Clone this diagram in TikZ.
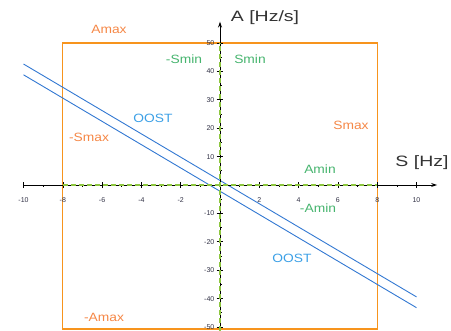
\documentclass[tikz,border=0pt]{standalone}
\usepackage{fontspec}
\setmainfont{Liberation Sans}
\usetikzlibrary{arrows.meta}
\definecolor{boxorange}{RGB}{247,148,29}
\definecolor{lblorange}{RGB}{245,135,70}
\definecolor{lblgreen}{RGB}{70,180,110}
\definecolor{dashgreen}{RGB}{141,198,63}
\definecolor{lineblue}{RGB}{50,120,210}
\definecolor{lblblue}{RGB}{60,160,230}
\definecolor{ticklbl}{RGB}{50,50,70}
\tikzset{
  lbl/.style={font=\fontsize{12}{12}\selectfont, inner sep=0pt, xscale=1.15},
  olbl/.style={lbl, text=lblorange},
  glbl/.style={lbl, text=lblgreen},
  blbl/.style={lbl, text=lblblue},
  axtitle/.style={font=\fontsize{15}{15}\selectfont, inner sep=0pt, text=black!80, xscale=1.3},
  ticklab/.style={font=\fontsize{7}{7}\selectfont, inner sep=0pt, text=ticklbl},
  axisline/.style={line width=0.9pt, black},
  gdash/.style={dashgreen, line width=2.4pt, dash pattern=on 5pt off 3pt},
  oost/.style={lineblue, line width=0.9pt},
  bound/.style={boxorange, line width=1.2pt}
}
\begin{document}
\begin{tikzpicture}[x=1pt,y=1pt]
\useasboundingbox (0,0) rectangle (451,331);
\begin{scope}[shift={(220,146)}, x=19.65pt, y=2.84pt]
  % limit box
  \draw[bound] (-8,-50.7) rectangle (8,50);
  % OOST lines
  \draw[oost] (-10,42.6) -- (10,-39.4);
  \draw[oost] (-10,38.8) -- (10,-43.2);
  % axes
  \coordinate (xs) at (-10,0);
  \coordinate (xe) at (11.05,0);
  \coordinate (ys) at (0,-51.5);
  \coordinate (ye) at (0,57.5);
  \draw[axisline, -{Stealth[length=6pt,width=4pt]}] (xs) -- (xe);
  \draw[axisline, -{Stealth[length=6pt,width=4pt]}] (ys) -- (ye);
  % ticks x
  \foreach \s in {-10,-8,-6,-4,-2,2,4,6,8,10} {
    \draw[black, line width=0.6pt] (\s,0) ++(0,-1.1) -- ++(0,2.2);
    \node[ticklab] (tx\s) at (\s,-5.2) {\s};
  }
  \foreach \s in {-9,-7,-5,-3,-1,1,3,5,7,9} {
    \draw[black, line width=0.6pt] (\s,0) -- ++(0,-0.8);
  }
  % ticks y
  \foreach \a in {-50,-40,-30,-20,-10,10,20,30,40,50} {
    \draw[black, line width=0.6pt] (0,\a) ++(-0.17,0) -- ++(0.34,0);
    \node[ticklab, anchor=east] (ty\a) at (-0.28,\a) {\a};
  }
  \foreach \a in {-45,-35,-25,-15,-5,5,15,25,35,45} {
    \draw[black, line width=0.6pt] (0,\a) -- ++(0.12,0);
  }
  % green dashed limits
  \draw[gdash] (-8,0) -- (8,0);
  \draw[gdash] (0,-51.5) -- (0,50);
\end{scope}
% labels (pixel positions, y flipped)
\node[olbl] (amax) at (109,302) {Amax};
\node[olbl] (mamax) at (104,14) {-Amax};
\node[olbl] (msmax) at (89,194) {-Smax};
\node[olbl] (smax) at (351,206) {Smax};
\node[glbl] (msmin) at (184,272) {-Smin};
\node[glbl] (smin) at (250,272) {Smin};
\node[glbl] (amin) at (320,162) {Amin};
\node[glbl] (mamin) at (318,123) {-Amin};
\node[blbl] (oost1) at (153,213) {OOST};
\node[blbl] (oost2) at (292,73) {OOST};
\node[axtitle] (atitle) at (265,313) {A [Hz/s]};
\node[axtitle] (stitle) at (422,168) {S [Hz]};
\end{tikzpicture}
\end{document}
